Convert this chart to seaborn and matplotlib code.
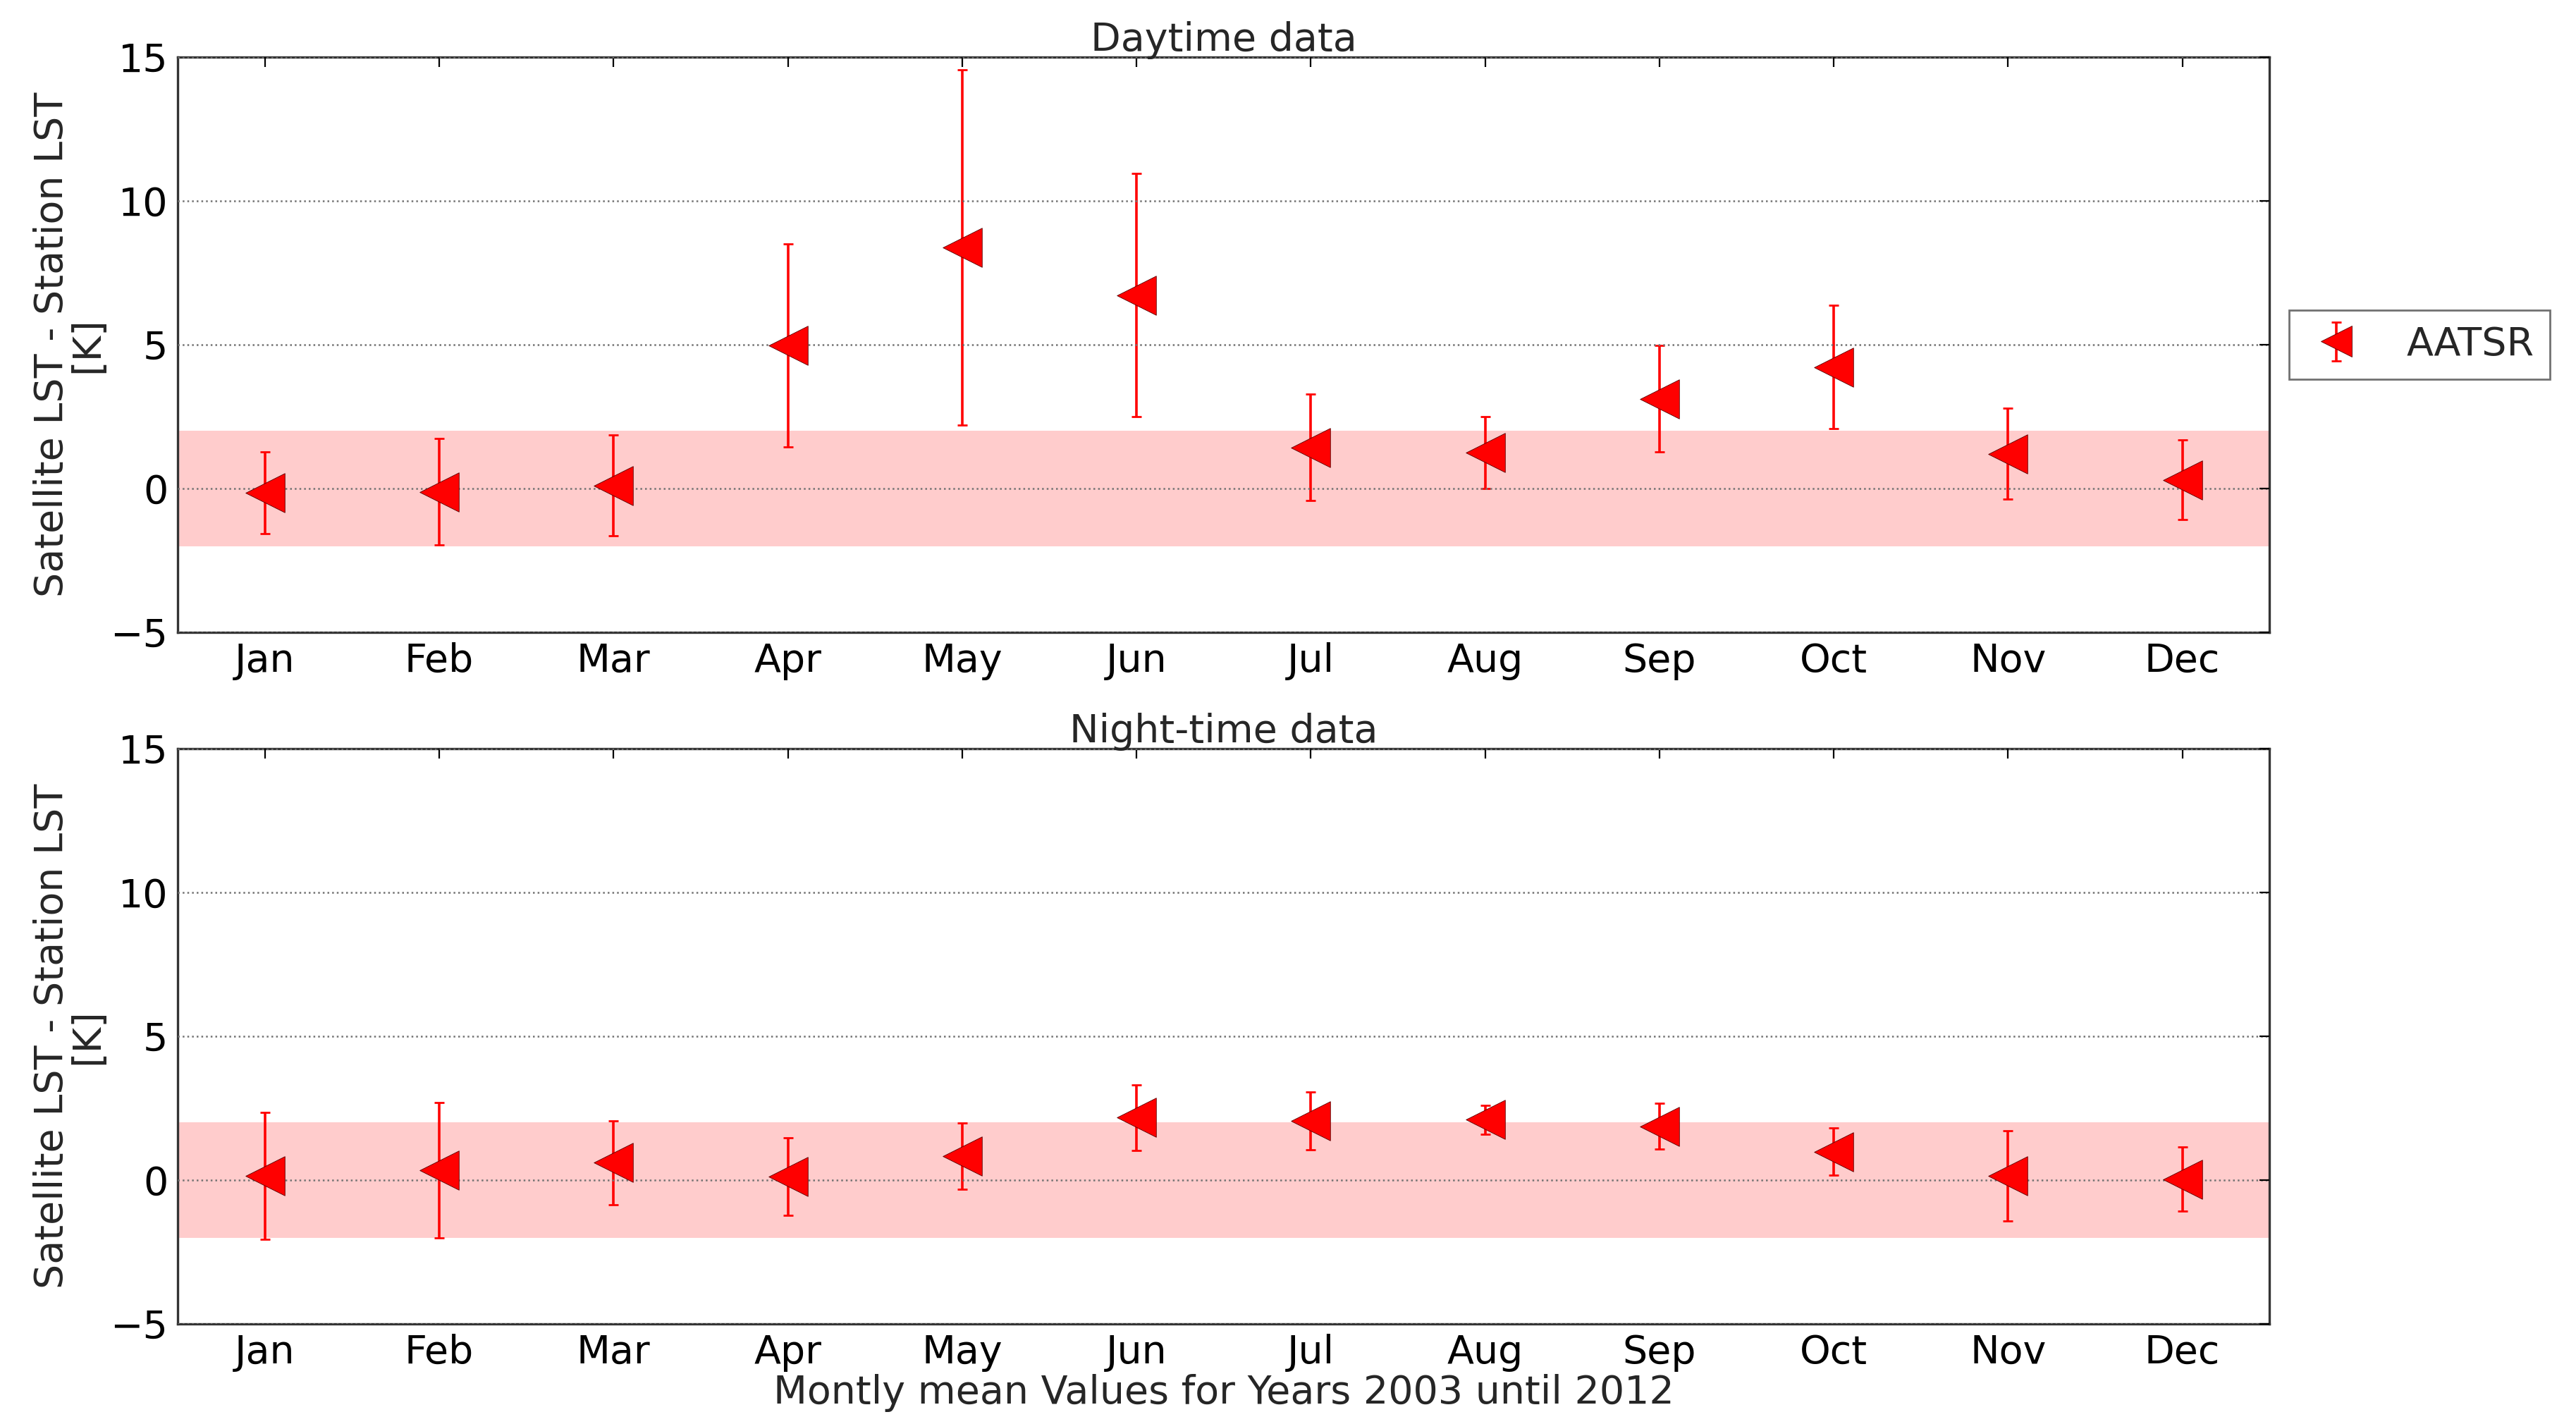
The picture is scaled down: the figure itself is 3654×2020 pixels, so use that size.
import numpy as np
import matplotlib.pyplot as plt
import seaborn as sns

months = ['Jan', 'Feb', 'Mar', 'Apr', 'May', 'Jun',
          'Jul', 'Aug', 'Sep', 'Oct', 'Nov', 'Dec']

# daytime: mean difference and error
day_mean = [-0.15, -0.12, 0.1, 4.98, 8.38, 6.72, 1.43, 1.25, 3.12, 4.22, 1.2, 0.3]
day_err = [1.42, 1.85, 1.75, 3.53, 6.17, 4.22, 1.84, 1.25, 1.85, 2.14, 1.58, 1.38]

# night-time
night_mean = [0.15, 0.35, 0.6, 0.12, 0.83, 2.17, 2.06, 2.1, 1.87, 0.99, 0.15, 0.03]
night_err = [2.21, 2.35, 1.45, 1.35, 1.16, 1.14, 1.0, 0.5, 0.8, 0.83, 1.57, 1.12]

band = (-2, 2)
titles = ['Daytime data', 'Night-time data']

sns.set_style('white')
plt.rcParams['font.family'] = ['DejaVu Sans']
plt.rcParams['axes.unicode_minus'] = True

fs = 20

fig, axes = plt.subplots(2, 1, figsize=(18.27, 10.10), dpi=200)
fig.subplots_adjust(left=0.069, right=0.881, top=0.96, bottom=0.0703, hspace=0.202)

for ax, mean, err, title in zip(axes, [day_mean, night_mean], [day_err, night_err], titles):
    x = np.arange(len(months))
    ax.axhspan(band[0], band[1], color='red', alpha=0.2, lw=0, zorder=0)
    eb = ax.errorbar(x, mean, yerr=err, fmt='none', ecolor='red', elinewidth=1.3,
                     capsize=2.5, capthick=1.0, zorder=2)
    sns.scatterplot(x=x, y=mean, marker='<', s=400, color='red', edgecolor='#550000',
                    linewidth=0.3, ax=ax, legend=False, zorder=3)
    ax.set_xlim(-0.5, 11.5)
    ax.set_ylim(-5, 15)
    ax.set_xticks(x)
    ax.set_xticklabels(months)
    ax.set_yticks([-5, 0, 5, 10, 15])
    ax.yaxis.grid(True, color='0.45', linestyle=':', linewidth=0.9, zorder=1)
    ax.set_axisbelow(False)
    ax.tick_params(direction='in', top=True, right=True, length=5, width=0.8,
                   labelsize=fs, pad=5, colors='black')
    for sp in ax.spines.values():
        sp.set_color('0.2')
        sp.set_linewidth(1.2)
    ax.set_title(title, fontsize=fs, pad=3)
    ax.set_ylabel('Satellite LST - Station LST\n[K]', fontsize=fs, labelpad=2, linespacing=0.9)

    if ax is axes[0]:
        marker_handle = plt.Line2D([], [], marker='<', color='red', markeredgecolor='#550000',
                                   markeredgewidth=0.3, markersize=16, linestyle='none')
        ax.legend(handles=[(eb, marker_handle)], labels=['AATSR'], loc='center left',
                  bbox_to_anchor=(1.0, 0.5), fontsize=fs, frameon=True, fancybox=False,
                  edgecolor='0.3', borderpad=0.4, handletextpad=1.0, handlelength=1.6)

axes[1].set_xlabel('Montly mean Values for Years 2003 until 2012', fontsize=fs, labelpad=1)

fig.savefig('out.png', dpi=200)
